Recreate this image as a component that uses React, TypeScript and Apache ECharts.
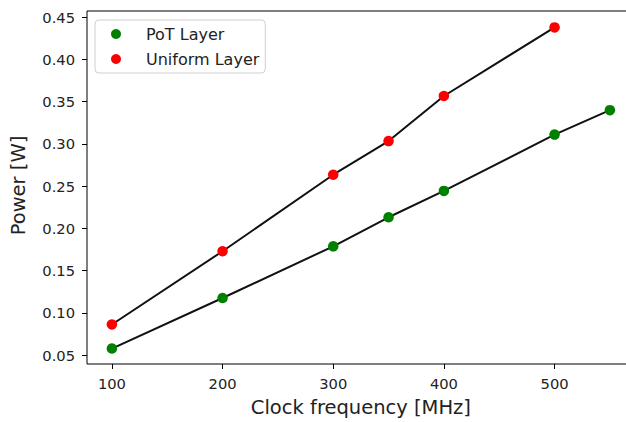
import React, { useEffect, useRef } from "react";
import * as echarts from "echarts";

const freqPoT = [100, 200, 300, 350, 400, 500, 550];
const powerPoT = [0.0578, 0.1176, 0.1788, 0.2132, 0.2444, 0.3111, 0.340];
const freqUniform = [100, 200, 300, 350, 400, 500];
const powerUniform = [0.0863, 0.173, 0.2636, 0.3034, 0.3568, 0.438];
const xTicks = [100, 200, 300, 400, 500];
const yTicks = [0.05, 0.1, 0.15, 0.2, 0.25, 0.3, 0.35, 0.4, 0.45];

const FONT = "DejaVu Sans";
const TXT = "#222";

export default function App() {
  const ref = useRef<HTMLDivElement>(null);
  useEffect(() => {
    if (!ref.current) return;
    const chart = echarts.init(ref.current, undefined, { renderer: "svg" });
    const pot = freqPoT.map((f, i) => [f, powerPoT[i]]);
    const uni = freqUniform.map((f, i) => [f, powerUniform[i]]);
    chart.setOption({
      animation: false,
      backgroundColor: "#fff",
      grid: {
        left: 87,
        top: 11,
        width: 547.8,
        height: 356.7,
        show: true,
        borderColor: "#000",
        borderWidth: 1,
        backgroundColor: "transparent",
      },
      legend: {
        orient: "vertical",
        left: 95,
        top: 20,
        data: [
          { name: "PoT Layer", icon: "circle" },
          { name: "Uniform Layer", icon: "circle" },
        ],
        itemWidth: 20,
        itemHeight: 10,
        itemGap: 7,
        padding: [5, 6, 5, 16],
        borderColor: "#d0d0d0",
        borderWidth: 1,
        borderRadius: 4,
        backgroundColor: "rgba(255,255,255,0.8)",
        textStyle: {
          fontFamily: FONT,
          fontSize: 16,
          color: TXT,
          lineHeight: 18,
          padding: [0, 0, 0, 15],
        },
      },
      xAxis: {
        type: "value",
        min: 77.5,
        max: 572.5,
        name: "Clock frequency [MHz]",
        nameLocation: "middle",
        nameGap: 33,
        nameTextStyle: { fontFamily: FONT, fontSize: 19.5, color: TXT },
        axisLine: { show: false },
        splitLine: { show: false },
        axisTick: {
          show: true,
          inside: false,
          length: 5,
          lineStyle: { color: "#000", width: 1 },
          customValues: xTicks,
        },
        axisLabel: {
          fontFamily: FONT,
          fontSize: 14.7,
          color: TXT,
          margin: 12,
          customValues: xTicks,
          formatter: (v: number) => String(v),
        },
      },
      yAxis: {
        type: "value",
        min: 0.0395,
        max: 0.4574,
        name: "Power [W]",
        nameLocation: "middle",
        nameGap: 59,
        nameRotate: 90,
        nameTextStyle: { fontFamily: FONT, fontSize: 19.5, color: TXT, padding: [0, 0, 0, 4] },
        axisLine: { show: false },
        splitLine: { show: false },
        axisTick: {
          show: true,
          inside: false,
          length: 5,
          lineStyle: { color: "#000", width: 1 },
          customValues: yTicks,
        },
        axisLabel: {
          fontFamily: FONT,
          fontSize: 14.7,
          color: TXT,
          margin: 12,
          customValues: yTicks,
          formatter: (v: number) => v.toFixed(2),
        },
      },
      series: [
        {
          name: "PoT line",
          type: "line",
          data: pot,
          showSymbol: false,
          symbol: "none",
          lineStyle: { color: "#111", width: 2 },
          z: 2,
        },
        {
          name: "Uniform line",
          type: "line",
          data: uni,
          showSymbol: false,
          symbol: "none",
          lineStyle: { color: "#111", width: 2 },
          z: 2,
        },
        {
          name: "PoT Layer",
          type: "scatter",
          data: pot,
          symbol: "circle",
          symbolSize: 10.5,
          itemStyle: { color: "#008000", opacity: 1 },
          z: 3,
        },
        {
          name: "Uniform Layer",
          type: "scatter",
          data: uni,
          symbol: "circle",
          symbolSize: 10.5,
          itemStyle: { color: "#ff0000", opacity: 1 },
          z: 3,
        },
      ],
    });
    return () => chart.dispose();
  }, []);
  return (
    <div
      style={{
        position: "fixed",
        left: 0,
        top: 0,
        width: 626,
        height: 422,
        overflow: "hidden",
        background: "#fff",
      }}
    >
      <div ref={ref} style={{ width: 640, height: 422 }} />
    </div>
  );
}
